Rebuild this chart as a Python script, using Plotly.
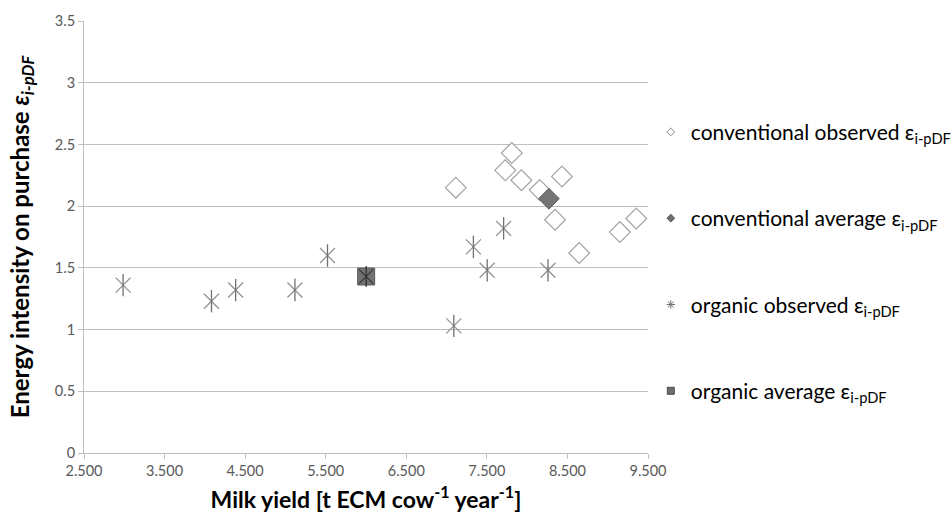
import plotly.graph_objects as go

# Milk yield [t ECM cow^-1 year^-1] and energy intensity on purchase
conv_obs_yield = [7115, 7809, 7728, 7928, 8156, 8432, 8346, 8646, 9150, 9354]
conv_obs_eps = [2.15, 2.43, 2.29, 2.21, 2.13, 2.24, 1.89, 1.62, 1.79, 1.90]

conv_avg_yield = [8270]
conv_avg_eps = [2.06]

org_obs_yield = [2985, 4082, 4382, 5118, 5522, 7090, 7333, 7504, 7708, 8259]
org_obs_eps = [1.36, 1.23, 1.32, 1.32, 1.60, 1.03, 1.67, 1.48, 1.82, 1.48]

org_avg_yield = [6002]
org_avg_eps = [1.43]

x_tick_vals = [2500, 3500, 4500, 5500, 6500, 7500, 8500, 9500]
x_tick_text = ["2.500", "3.500", "4.500", "5.500", "6.500", "7.500", "8.500", "9.500"]
y_tick_vals = [0, 0.5, 1, 1.5, 2, 2.5, 3, 3.5]

legend_names = [
    "conventional observed ε<sub>i-pDF</sub>",
    "conventional average ε<sub>i-pDF</sub>",
    "organic observed ε<sub>i-pDF</sub>",
    "organic average ε<sub>i-pDF</sub>",
]

FONT = "Lato"
fig = go.Figure()

# Conventional farms: open diamonds
fig.add_trace(go.Scatter(
    x=conv_obs_yield, y=conv_obs_eps, mode="markers", showlegend=False,
    marker=dict(symbol="diamond", size=16, color="white",
                line=dict(color="#a3a3a3", width=1.2)),
))
fig.add_trace(go.Scatter(
    x=conv_avg_yield, y=conv_avg_eps, mode="markers", showlegend=False,
    marker=dict(symbol="diamond", size=16, color="#747474",
                line=dict(color="#5e5e5e", width=1)),
))

# Organic farms: six-spoke star built from an X and a vertical bar
fig.add_trace(go.Scatter(
    x=org_obs_yield, y=org_obs_eps, mode="markers", showlegend=False,
    marker=dict(symbol="x-thin-open", size=15, color="#939393",
                line=dict(width=1.3)),
))
fig.add_trace(go.Scatter(
    x=org_obs_yield, y=org_obs_eps, mode="markers", showlegend=False,
    marker=dict(symbol="line-ns-open", size=16, color="#707070",
                line=dict(width=1.3)),
))

# Organic average: filled square with a star on top
fig.add_trace(go.Scatter(
    x=org_avg_yield, y=org_avg_eps, mode="markers", showlegend=False,
    marker=dict(symbol="square", size=17, color="#727272",
                line=dict(color="#5a5a5a", width=1)),
))
fig.add_trace(go.Scatter(
    x=org_avg_yield, y=org_avg_eps, mode="markers", showlegend=False,
    marker=dict(symbol="x-thin-open", size=14, color="#3c3c3c",
                line=dict(width=1.2)),
))
fig.add_trace(go.Scatter(
    x=org_avg_yield, y=org_avg_eps, mode="markers", showlegend=False,
    marker=dict(symbol="line-ns-open", size=15, color="#2e2e2e",
                line=dict(width=1.2)),
))

# Compact legend entries
legend_markers = [
    dict(symbol="diamond", size=6, color="white", line=dict(color="#8a8a8a", width=1)),
    dict(symbol="diamond", size=6, color="#6e6e6e", line=dict(color="#5a5a5a", width=1)),
    dict(symbol="asterisk-open", size=7, color="#6e6e6e", line=dict(width=1)),
    dict(symbol="square", size=7, color="#6e6e6e", line=dict(color="#4a4a4a", width=1)),
]
for i, (name, mk) in enumerate(zip(legend_names, legend_markers)):
    fig.add_trace(go.Scatter(
        x=[None], y=[None], mode="markers", name=name, marker=mk,
        legendgroup=f"g{i}", showlegend=True,
    ))

fig.update_layout(
    width=952, height=520,
    margin=dict(l=84, r=304, t=21, b=67, autoexpand=False),
    paper_bgcolor="white", plot_bgcolor="white",
    font=dict(family=FONT, color="#000000"),
    showlegend=True,
    legend=dict(
        x=1.005, xanchor="left", y=0.79, yanchor="top",
        font=dict(family=FONT, size=21, color="#000000"),
        tracegroupgap=56, itemwidth=30,
        bgcolor="rgba(0,0,0,0)",
    ),
    xaxis=dict(
        range=[2500, 9500], tickvals=x_tick_vals, ticktext=x_tick_text,
        showgrid=False, zeroline=False,
        showline=True, linecolor="#bfbfbf", linewidth=1,
        ticks="outside", ticklen=5, tickcolor="#bfbfbf",
        tickfont=dict(family=FONT, size=14.5, color="#595959"),
        title=dict(text="<b>Milk yield [t ECM cow<sup>-1</sup> year<sup>-1</sup>]</b>",
                   font=dict(family=FONT, size=23, color="#000000"), standoff=13),
    ),
    yaxis=dict(
        range=[0, 3.5], tickvals=y_tick_vals,
        showgrid=True, gridcolor="#bfbfbf", gridwidth=1, zeroline=False,
        showline=True, linecolor="#bfbfbf", linewidth=1,
        ticks="outside", ticklen=5, tickcolor="#bfbfbf",
        tickfont=dict(family=FONT, size=14.5, color="#595959"),
        title=dict(text="<b>Energy intensity on purchase <i>ε<sub>i-pDF</sub></i></b>",
                   font=dict(family=FONT, size=24, color="#000000"), standoff=18),
    ),
)

fig.write_html("out.html")
